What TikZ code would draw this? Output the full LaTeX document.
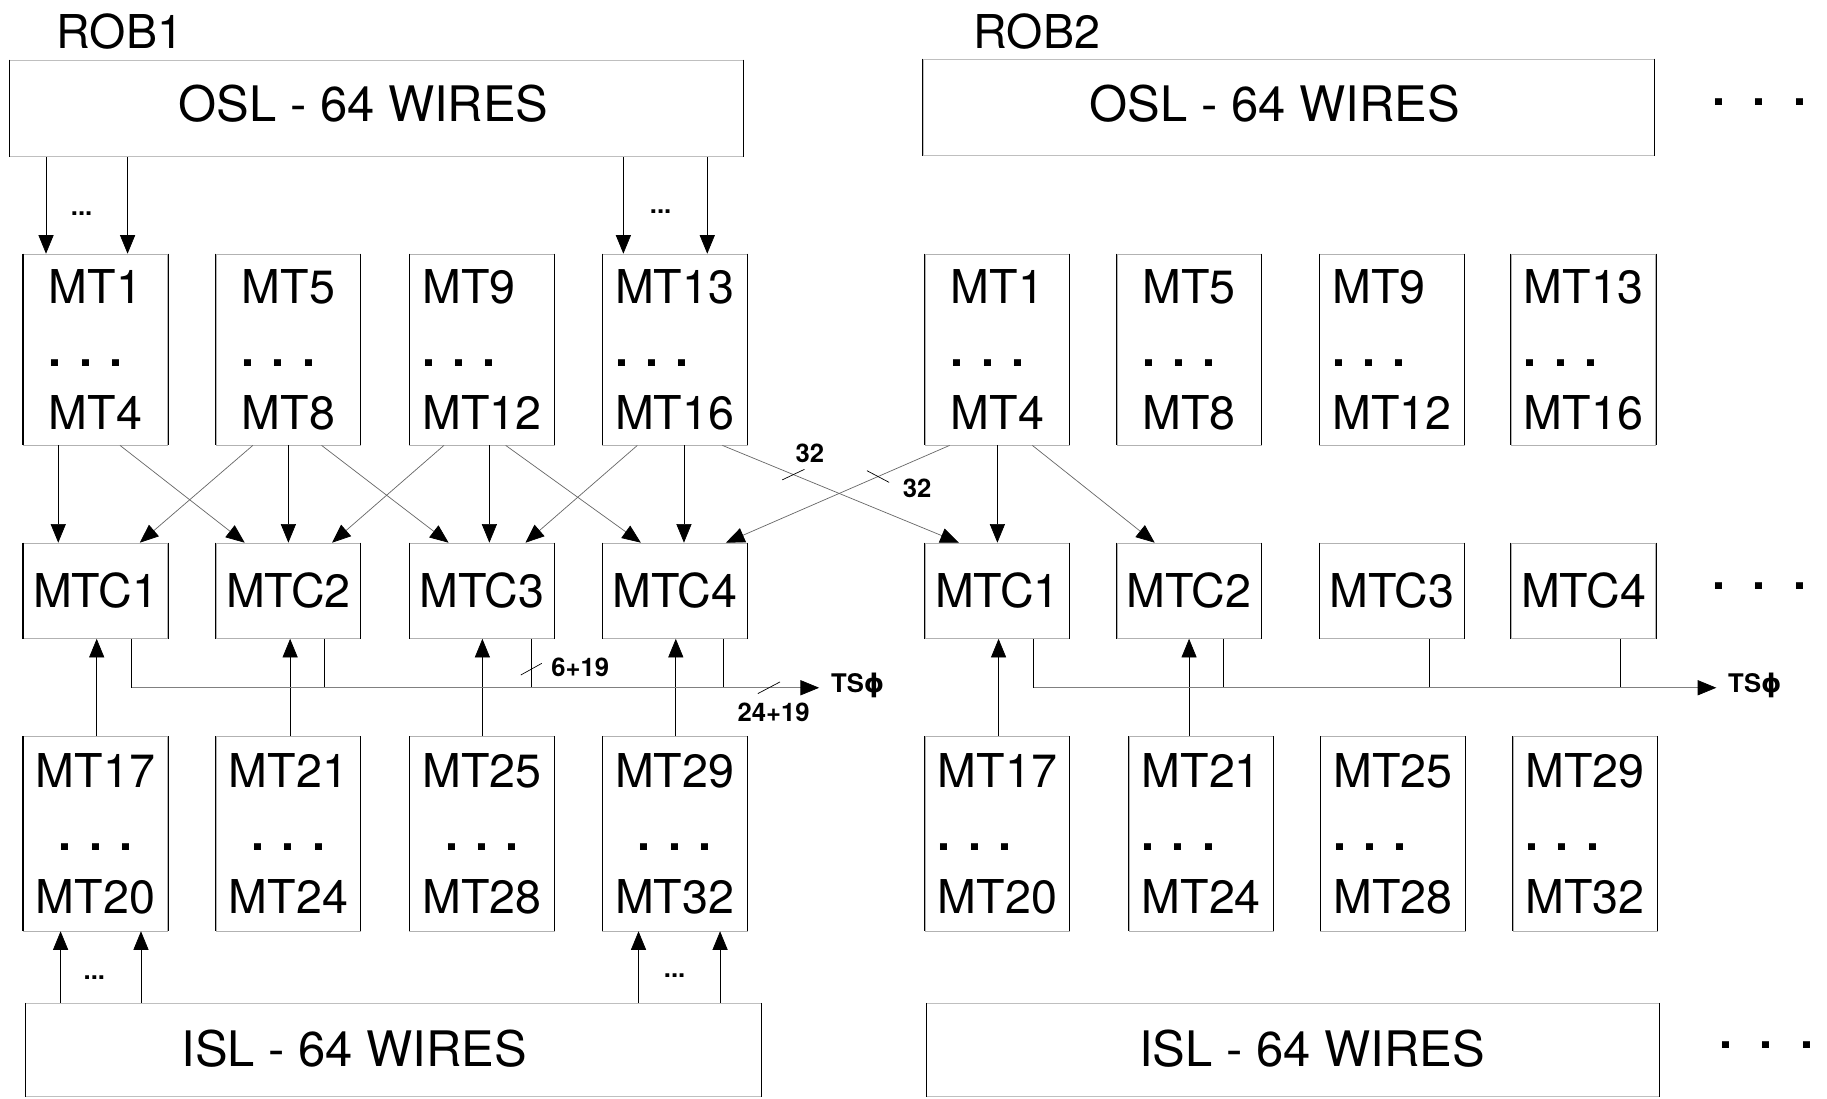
\documentclass[tikz,border=0pt]{standalone}
\usepackage{fontspec}
\setmainfont{TeX Gyre Heros}
\newfontfamily\phifont{DejaVu Sans}
\usetikzlibrary{arrows.meta,calc}
\newcommand\mtf{\fontsize{40}{54}\selectfont}
\newcommand\slf{\fontsize{42}{50}\selectfont}
\newcommand\smf{\fontsize{22}{26}\selectfont\bfseries}
\newcommand\robf{\fontsize{40}{48}\selectfont}
\newcommand\bigdots{\textbf{.\hspace{24pt}.\hspace{24pt}.}}
\begin{document}
\begin{tikzpicture}[x=1pt,y=-1pt,
  box/.style={draw=black!30, line width=0.5pt, minimum width=124pt, inner sep=0pt},
  mtbox/.style={box, minimum height=164pt, font=\mtf, align=left},
  mtboxc/.style={box, minimum height=167pt, font=\mtf, align=center},
  mtcbox/.style={box, minimum height=82pt, font=\mtf},
  slbox/.style={draw=black!25, line width=0.5pt, inner sep=0pt},
  sltext/.style={font=\slf, inner sep=0pt},
  sides/.style={draw=black, line width=0.9pt},
  wire/.style={draw=black, line width=0.6pt, -{Triangle[length=16pt,width=13pt,color=black]}},
  diag/.style={wire, draw=black!60},
  bus/.style={draw=black, line width=0.6pt},
  hbus/.style={draw=black!50, line width=0.6pt},
  tickmark/.style={draw=black, line width=0.6pt},
  lbl/.style={font=\smf, inner sep=0pt},
  dotsl/.style={font=\robf, inner sep=0pt}
]
\fill[white] (0,0) rectangle (1568,943);
\useasboundingbox (0,0) rectangle (1568,943);

% titles
\node[font=\robf, inner sep=0pt] (rob1) at (103,27) {ROB1};
\node[font=\robf, inner sep=0pt] (rob2) at (890,27) {ROB2};

% OSL / ISL boxes
\node[slbox, minimum width=630pt, minimum height=83pt] (osl1) at (323,93) {};
\node[sltext] (osl1t) at (312,89) {OSL - 64 WIRES};
\node[slbox, minimum width=628pt, minimum height=83pt] (osl2) at (1106,92) {};
\node[sltext] (osl2t) at (1094,89) {OSL - 64 WIRES};
\node[slbox, minimum width=631pt, minimum height=80pt] (isl1) at (337.5,901) {};
\node[sltext] (isl1t) at (304,900) {ISL - 64 WIRES};
\node[slbox, minimum width=629pt, minimum height=80pt] (isl2) at (1109.5,901) {};
\node[sltext] (isl2t) at (1126,900) {ISL - 64 WIRES};

% ROB1 row 1
\node[mtbox] (ra1) at (82,300) {MT1\\\textbf{. . .}\\MT4};
\node[mtbox] (ra2) at (247.5,300) {MT5\\\textbf{. . .}\\MT8};
\node[mtbox] (ra3) at (413.5,300) {MT9\\\textbf{. . .}\\MT12};
\node[mtbox] (ra4) at (579,300) {MT13\\\textbf{. . .}\\MT16};
% ROB2 row 1
\node[mtbox] (sa1) at (856,300) {MT1\\\textbf{. . .}\\MT4};
\node[mtbox] (sa2) at (1020.5,300) {MT5\\\textbf{. . .}\\MT8};
\node[mtbox] (sa3) at (1194.5,300) {MT9\\\textbf{. . .}\\MT12};
\node[mtbox] (sa4) at (1359,300) {MT13\\\textbf{. . .}\\MT16};

% MTC rows
\node[mtcbox] (rc1) at (82,507) {MTC1};
\node[mtcbox] (rc2) at (247.5,507) {MTC2};
\node[mtcbox] (rc3) at (413.5,507) {MTC3};
\node[mtcbox] (rc4) at (579,507) {MTC4};
\node[mtcbox] (sc1) at (856,507) {MTC1};
\node[mtcbox] (sc2) at (1020.5,507) {MTC2};
\node[mtcbox] (sc3) at (1194.5,507) {MTC3};
\node[mtcbox] (sc4) at (1359,507) {MTC4};

% bottom rows
\node[mtboxc] (rb1) at (82,715.5) {MT17\\\textbf{. . .}\\MT20};
\node[mtboxc] (rb2) at (247.5,715.5) {MT21\\\textbf{. . .}\\MT24};
\node[mtboxc] (rb3) at (413.5,715.5) {MT25\\\textbf{. . .}\\MT28};
\node[mtboxc] (rb4) at (579,715.5) {MT29\\\textbf{. . .}\\MT32};
\node[mtbox, minimum height=167pt] (sb1) at (856,715.5) {MT17\\\textbf{. . .}\\MT20};
\node[mtbox, minimum height=167pt] (sb2) at (1031,715.5) {MT21\\\textbf{. . .}\\MT24};
\node[mtbox, minimum height=167pt] (sb3) at (1195.5,715.5) {MT25\\\textbf{. . .}\\MT28};
\node[mtbox, minimum height=167pt] (sb4) at (1360.5,715.5) {MT29\\\textbf{. . .}\\MT32};

% solid vertical sides
\foreach \n in {osl1,osl2,isl1,isl2,ra1,ra2,ra3,ra4,sa1,sa2,sa3,sa4,rc1,rc2,rc3,rc4,sc1,sc2,sc3,sc4,rb1,rb2,rb3,rb4,sb1,sb2,sb3,sb4}
  \draw[sides] (\n.north west) -- (\n.south west) (\n.north east) -- (\n.south east);

% continuation dots
\node[dotsl] (dt1) at (1510,88) {\bigdots};
\node[dotsl] (dt2) at (1510,503) {\bigdots};
\node[dotsl] (dt3) at (1516,897) {\bigdots};

% OSL -> MT arrows
\coordinate (o1) at ($(ra1.north)+(-42.5,0)$);
\coordinate (o2) at ($(ra1.north)+(27.5,0)$);
\coordinate (o3) at ($(ra4.north)+(-44,0)$);
\coordinate (o4) at ($(ra4.north)+(28,0)$);
\foreach \c in {o1,o2,o3,o4} \draw[wire] (osl1.south -| \c) -- (\c);
\node[lbl] (od1) at (70,183) {...};
\node[lbl] (od2) at (567,182) {...};

% ISL -> MT arrows
\coordinate (i1) at ($(rb1.south)+(-30,0)$);
\coordinate (i2) at ($(rb1.south)+(39,0)$);
\coordinate (i3) at ($(rb4.south)+(-31,0)$);
\coordinate (i4) at ($(rb4.south)+(39,0)$);
\foreach \c in {i1,i2,i3,i4} \draw[wire] (isl1.north -| \c) -- (\c);
\node[lbl] (id1) at (81,839) {...};
\node[lbl] (id2) at (579,837) {...};

% row1 -> MTC verticals
\draw[wire] ($(ra1.south)+(-32,0)$) -- ($(rc1.north)+(-32,0)$);
\draw[wire] (ra2.south) -- (rc2.north);
\draw[wire] ($(ra3.south)+(6.5,0)$) -- ($(rc3.north)+(6.5,0)$);
\draw[wire] ($(ra4.south)+(8,0)$) -- ($(rc4.north)+(8,0)$);
\draw[wire] (sa1.south) -- (sc1.north);

% diagonals
\draw[diag] ($(ra1.south)+(21,0)$) -- ($(rc2.north)+(-37.5,0)$);
\draw[diag] ($(ra2.south)+(-30.5,0)$) -- ($(rc1.north)+(38,0)$);
\draw[diag] ($(ra2.south)+(28.5,0)$) -- ($(rc3.north)+(-28.5,0)$);
\draw[diag] ($(ra3.south)+(-32.5,0)$) -- ($(rc2.north)+(37.5,0)$);
\draw[diag] ($(ra3.south)+(20.5,0)$) -- ($(rc4.north)+(-29,0)$);
\draw[diag] ($(ra4.south)+(-32,0)$) -- ($(rc3.north)+(37.5,0)$);
\draw[diag] ($(ra4.south)+(41,0)$) -- coordinate[pos=0.3] (k1) ($(sc1.north)+(-33,0)$);
\draw[diag] ($(sa1.south)+(-41,0)$) -- coordinate[pos=0.32] (k2) ($(rc4.north)+(44,0)$);
\draw[diag] ($(sa1.south)+(30,0)$) -- ($(sc2.north)+(-29.5,0)$);
\draw[tickmark] ($(k1)+(-9.5,4.5)$) -- ($(k1)+(9.5,-4.5)$);
\draw[tickmark] ($(k2)+(-9.5,-5)$) -- ($(k2)+(9.5,5)$);
\node[lbl] (n32a) at (695,389) {32};
\node[lbl] (n32b) at (787,419) {32};

% MT bottom -> MTC up arrows
\draw[wire] ($(rb1.north)+(1,0)$) -- ($(rc1.south)+(1,0)$);
\draw[wire] ($(rb2.north)+(1.5,0)$) -- ($(rc2.south)+(1.5,0)$);
\draw[wire] ($(rb3.north)+(0.5,0)$) -- ($(rc3.south)+(0.5,0)$);
\draw[wire] ($(rb4.north)+(1,0)$) -- ($(rc4.south)+(1,0)$);
\draw[wire] ($(sb1.north)+(1,0)$) -- ($(sc1.south)+(1,0)$);
\draw[wire] (sc2.south |- sb2.north) -- (sc2.south);

% TS buses ROB1
\coordinate (b1) at ($(rc1.south)+(31,42)$);
\coordinate (b2) at ($(rc2.south)+(30.5,42)$);
\coordinate (b3) at ($(rc3.south)+(42.5,42)$);
\coordinate (b4) at ($(rc4.south)+(42,42)$);
\draw[bus] (rc1.south -| b1) -- (b1);
\draw[bus] (rc2.south -| b2) -- (b2);
\draw[bus] (rc3.south -| b3) -- coordinate[pos=0.62] (k3) (b3);
\draw[bus] (rc4.south -| b4) -- (b4);
\node[lbl, anchor=west] (ts1) at (713,588) {TS{\phifont ϕ}};
\coordinate (te1) at (b1 -| 703,0);
\draw[hbus, -{Triangle[length=16pt,width=13pt,color=black]}] (b1) -- coordinate[pos=0.927] (k4) (te1);
\draw[tickmark] ($(k3)+(-9,5)$) -- ($(k3)+(9,-5)$);
\draw[tickmark] ($(k4)+(-9.5,5)$) -- ($(k4)+(9.5,-5)$);
\node[lbl] (l619) at (498,573) {6+19};
\node[lbl] (l2419) at (664,611) {24+19};

% TS buses ROB2
\coordinate (c1) at ($(sc1.south)+(31,42)$);
\coordinate (c2) at ($(sc2.south)+(29.5,42)$);
\coordinate (c3) at ($(sc3.south)+(32.5,42)$);
\coordinate (c4) at ($(sc4.south)+(32,42)$);
\draw[bus] (sc1.south -| c1) -- (c1);
\draw[bus] (sc2.south -| c2) -- (c2);
\draw[bus] (sc3.south -| c3) -- (c3);
\draw[bus] (sc4.south -| c4) -- (c4);
\node[lbl, anchor=west] (ts2) at (1483,588) {TS{\phifont ϕ}};
\coordinate (te2) at (c1 -| 1473,0);
\draw[hbus, -{Triangle[length=16pt,width=13pt,color=black]}] (c1) -- (te2);
\end{tikzpicture}
\end{document}
